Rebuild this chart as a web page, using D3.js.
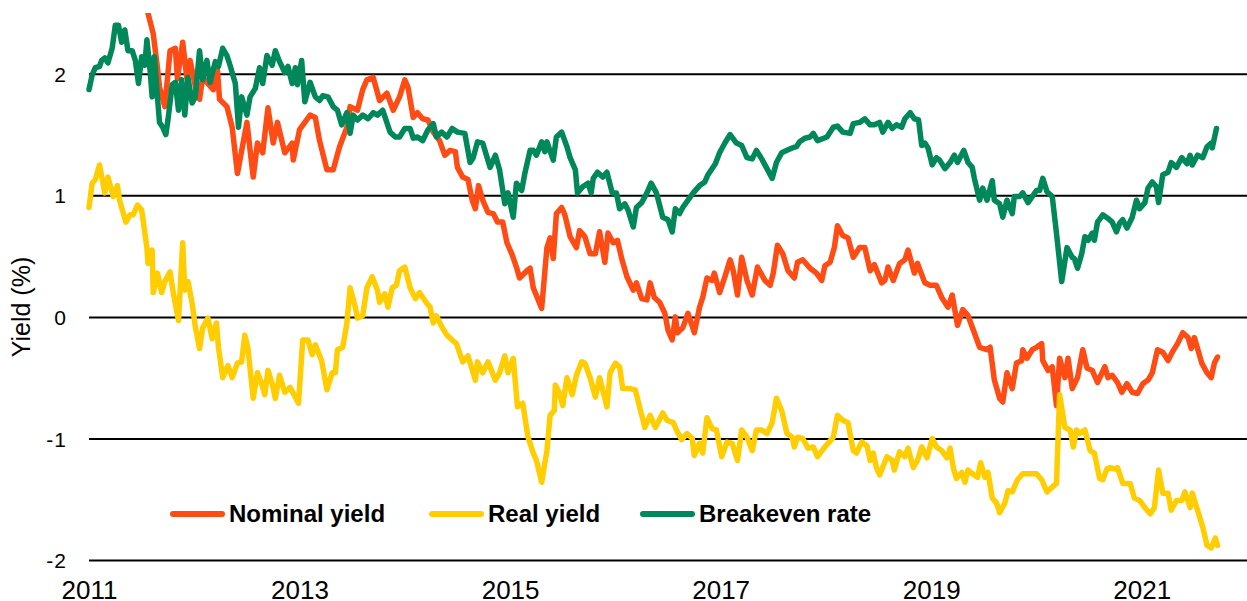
<!DOCTYPE html>
<html>
<head>
<meta charset="utf-8">
<script src="https://cdn.jsdelivr.net/npm/d3@7"></script>
<style>
	body { margin: 0; background: #fff; }
	svg text { font-family: "Liberation Sans", Arial, sans-serif; fill: #000; }
	.axis .domain { display: none; }
	.grid line { stroke: #000; stroke-width: 2px; }
	.y-label { font-size: 21px; letter-spacing: 1px; }
	.x-label { font-size: 26px; }
	.legend text { font-size: 24px; font-weight: bold; }
	.line { fill: none; stroke-width: 5.5px; stroke-linejoin: round; stroke-linecap: round; }
</style>
</head>
<body>
<svg id="chart" width="1247" height="601"></svg>
<script>

var yearTicks = [ 2011, 2013, 2015, 2017, 2019, 2021 ];
var yieldTicks = [ -2, -1, 0, 1, 2 ];
var seriesNames = [ 'Nominal yield', 'Real yield', 'Breakeven rate' ];
var seriesColors = [ '#ff4b14', '#ffcd00', '#00875a' ];

// [ year, yield % ]
var nominal = [
	[2011.00,2.95],[2011.10,3.25],[2011.25,3.35],[2011.40,3.10],[2011.50,2.85],[2011.56,2.50],
	[2011.61,2.33],[2011.65,2.05],[2011.67,1.89],[2011.72,1.73],[2011.77,2.19],[2011.82,2.21],[2011.84,1.96],[2011.89,2.26],[2011.93,1.96],[2011.96,2.11],
	[2012.03,1.81],[2012.05,1.79],[2012.08,1.97],[2012.18,1.87],[2012.22,2.03],[2012.24,1.79],[2012.31,1.73],[2012.36,1.56],[2012.41,1.18],[2012.50,1.60],[2012.56,1.15],[2012.60,1.43],[2012.65,1.35],[2012.70,1.72],[2012.75,1.43],[2012.79,1.60],[2012.86,1.35],[2012.93,1.43],[2012.94,1.29],
	[2013.00,1.54],[2013.10,1.66],[2013.15,1.64],[2013.19,1.45],[2013.26,1.21],[2013.32,1.21],[2013.38,1.40],[2013.45,1.56],[2013.48,1.73],[2013.55,1.70],[2013.60,1.87],[2013.64,1.95],[2013.70,1.97],[2013.76,1.78],[2013.83,1.84],[2013.89,1.70],[2013.95,1.81],
	[2014.00,1.95],[2014.03,1.89],[2014.08,1.64],[2014.12,1.68],[2014.17,1.63],[2014.22,1.62],[2014.27,1.52],[2014.33,1.45],[2014.38,1.33],[2014.43,1.37],[2014.48,1.36],[2014.50,1.23],[2014.55,1.15],[2014.60,1.13],[2014.64,0.96],[2014.67,0.89],[2014.70,1.08],[2014.74,0.96],[2014.79,0.86],[2014.84,0.85],[2014.88,0.78],[2014.93,0.78],[2014.97,0.61],
	[2015.02,0.51],[2015.06,0.41],[2015.09,0.32],[2015.16,0.38],[2015.19,0.40],[2015.22,0.24],[2015.30,0.07],[2015.35,0.57],[2015.38,0.65],[2015.41,0.48],[2015.44,0.85],[2015.49,0.90],[2015.52,0.84],[2015.57,0.66],[2015.63,0.57],[2015.66,0.71],[2015.71,0.66],[2015.76,0.52],[2015.81,0.52],[2015.85,0.70],[2015.90,0.45],[2015.93,0.69],[2015.98,0.61],
	[2016.02,0.63],[2016.06,0.48],[2016.11,0.33],[2016.17,0.22],[2016.20,0.28],[2016.25,0.15],[2016.30,0.14],[2016.33,0.28],[2016.37,0.16],[2016.42,0.12],[2016.47,0.03],[2016.50,-0.11],[2016.54,-0.19],[2016.57,0.00],[2016.59,-0.13],[2016.64,-0.09],[2016.69,0.03],[2016.75,-0.13],[2016.80,0.08],[2016.83,0.16],[2016.87,0.32],[2016.92,0.30],[2016.94,0.36],[2016.99,0.20],
	[2017.04,0.33],[2017.09,0.47],[2017.12,0.38],[2017.16,0.18],[2017.20,0.49],[2017.25,0.30],[2017.30,0.18],[2017.35,0.41],[2017.42,0.30],[2017.47,0.26],[2017.50,0.36],[2017.54,0.59],[2017.59,0.52],[2017.64,0.38],[2017.70,0.32],[2017.73,0.45],[2017.78,0.47],[2017.85,0.40],[2017.91,0.36],[2017.96,0.30],[2017.99,0.42],
	[2018.04,0.45],[2018.08,0.57],[2018.11,0.75],[2018.16,0.67],[2018.21,0.65],[2018.26,0.49],[2018.32,0.57],[2018.37,0.57],[2018.42,0.38],[2018.46,0.43],[2018.53,0.28],[2018.56,0.30],[2018.59,0.41],[2018.64,0.30],[2018.70,0.44],[2018.75,0.47],[2018.78,0.55],[2018.84,0.36],[2018.87,0.44],[2018.94,0.28],[2018.99,0.26],
	[2019.05,0.26],[2019.10,0.16],[2019.16,0.08],[2019.20,0.18],[2019.25,-0.07],[2019.30,0.06],[2019.35,0.01],[2019.41,-0.13],[2019.46,-0.25],[2019.53,-0.27],[2019.56,-0.25],[2019.60,-0.52],[2019.65,-0.67],[2019.68,-0.70],[2019.72,-0.46],[2019.77,-0.59],[2019.81,-0.38],[2019.86,-0.36],[2019.87,-0.27],[2019.91,-0.34],[2019.96,-0.27],
	[2020.00,-0.25],[2020.05,-0.22],[2020.06,-0.36],[2020.11,-0.44],[2020.15,-0.41],[2020.19,-0.73],[2020.22,-0.34],[2020.27,-0.50],[2020.30,-0.34],[2020.34,-0.59],[2020.39,-0.50],[2020.44,-0.27],[2020.48,-0.42],[2020.53,-0.44],[2020.58,-0.54],[2020.65,-0.41],[2020.68,-0.50],[2020.72,-0.48],[2020.77,-0.54],[2020.81,-0.62],[2020.86,-0.55],[2020.91,-0.62],[2020.96,-0.63],
	[2021.01,-0.55],[2021.06,-0.52],[2021.10,-0.46],[2021.15,-0.27],[2021.20,-0.29],[2021.25,-0.36],[2021.29,-0.29],[2021.34,-0.22],[2021.39,-0.13],[2021.44,-0.17],[2021.47,-0.26],[2021.50,-0.17],[2021.57,-0.38],[2021.62,-0.46],[2021.66,-0.50],[2021.69,-0.38],[2021.72,-0.33]
];

var real = [
	[2011.00,0.90],[2011.03,1.10],[2011.06,1.13],[2011.10,1.25],[2011.15,1.02],[2011.18,1.15],[2011.23,0.99],[2011.27,1.08],[2011.29,0.96],[2011.35,0.78],[2011.39,0.84],[2011.42,0.84],[2011.46,0.92],[2011.50,0.88],[2011.55,0.57],[2011.56,0.44],[2011.60,0.55],[2011.61,0.20],[2011.65,0.36],[2011.69,0.20],[2011.72,0.29],[2011.77,0.37],[2011.80,0.20],[2011.85,-0.03],[2011.89,0.61],[2011.91,0.22],[2011.94,0.29],[2011.98,0.11],
	[2012.01,-0.08],[2012.05,-0.26],[2012.08,-0.09],[2012.13,-0.01],[2012.17,-0.18],[2012.21,-0.05],[2012.23,-0.25],[2012.27,-0.50],[2012.32,-0.40],[2012.36,-0.50],[2012.41,-0.38],[2012.45,-0.37],[2012.48,-0.15],[2012.51,-0.26],[2012.56,-0.67],[2012.60,-0.46],[2012.64,-0.55],[2012.67,-0.64],[2012.70,-0.44],[2012.74,-0.55],[2012.77,-0.67],[2012.81,-0.48],[2012.86,-0.62],[2012.91,-0.58],[2012.96,-0.66],[2012.99,-0.71],
	[2013.03,-0.19],[2013.08,-0.19],[2013.12,-0.31],[2013.15,-0.23],[2013.21,-0.36],[2013.26,-0.60],[2013.31,-0.46],[2013.34,-0.46],[2013.36,-0.27],[2013.41,-0.25],[2013.45,-0.05],[2013.48,0.24],[2013.53,0.08],[2013.55,-0.01],[2013.60,0.01],[2013.64,0.24],[2013.69,0.33],[2013.74,0.22],[2013.76,0.12],[2013.81,0.19],[2013.84,0.08],[2013.88,0.24],[2013.92,0.26],[2013.95,0.38],
	[2014.00,0.41],[2014.05,0.24],[2014.10,0.15],[2014.14,0.20],[2014.21,0.11],[2014.24,0.08],[2014.27,-0.05],[2014.30,0.01],[2014.35,-0.08],[2014.40,-0.15],[2014.45,-0.19],[2014.49,-0.22],[2014.55,-0.37],[2014.60,-0.32],[2014.67,-0.52],[2014.69,-0.37],[2014.74,-0.46],[2014.79,-0.37],[2014.86,-0.52],[2014.90,-0.46],[2014.95,-0.32],[2014.98,-0.46],
	[2015.03,-0.34],[2015.07,-0.74],[2015.12,-0.71],[2015.17,-0.99],[2015.22,-1.12],[2015.25,-1.18],[2015.30,-1.36],[2015.35,-1.10],[2015.38,-0.81],[2015.42,-0.77],[2015.43,-0.56],[2015.47,-0.63],[2015.50,-0.73],[2015.54,-0.50],[2015.59,-0.64],[2015.63,-0.48],[2015.68,-0.37],[2015.71,-0.38],[2015.76,-0.50],[2015.81,-0.66],[2015.85,-0.50],[2015.92,-0.74],[2015.95,-0.46],
	[2016.00,-0.38],[2016.04,-0.41],[2016.07,-0.59],[2016.14,-0.59],[2016.19,-0.60],[2016.23,-0.74],[2016.28,-0.91],[2016.33,-0.81],[2016.38,-0.91],[2016.45,-0.79],[2016.49,-0.85],[2016.55,-0.87],[2016.58,-0.93],[2016.63,-1.01],[2016.68,-0.96],[2016.73,-1.00],[2016.75,-1.14],[2016.80,-1.04],[2016.83,-1.12],[2016.87,-0.83],[2016.92,-0.92],[2016.96,-0.93],
	[2017.01,-1.15],[2017.06,-1.03],[2017.11,-1.04],[2017.16,-1.18],[2017.20,-0.93],[2017.25,-0.99],[2017.30,-1.10],[2017.34,-0.93],[2017.39,-0.93],[2017.44,-0.96],[2017.49,-0.87],[2017.53,-0.67],[2017.58,-0.77],[2017.63,-0.96],[2017.68,-0.99],[2017.70,-1.07],[2017.73,-0.99],[2017.78,-1.00],[2017.83,-1.08],[2017.88,-1.07],[2017.92,-1.15],[2017.99,-1.07],
	[2018.04,-1.02],[2018.07,-0.99],[2018.11,-0.81],[2018.16,-0.85],[2018.21,-0.87],[2018.26,-1.10],[2018.29,-1.12],[2018.34,-1.03],[2018.39,-1.06],[2018.42,-1.18],[2018.45,-1.12],[2018.48,-1.24],[2018.51,-1.30],[2018.58,-1.15],[2018.63,-1.18],[2018.65,-1.26],[2018.70,-1.11],[2018.75,-1.15],[2018.78,-1.08],[2018.83,-1.24],[2018.87,-1.18],[2018.91,-1.07],[2018.96,-1.16],
	[2019.01,-1.00],[2019.05,-1.07],[2019.10,-1.10],[2019.15,-1.16],[2019.18,-1.08],[2019.21,-1.24],[2019.24,-1.33],[2019.29,-1.28],[2019.32,-1.36],[2019.35,-1.26],[2019.39,-1.29],[2019.44,-1.32],[2019.47,-1.20],[2019.51,-1.32],[2019.54,-1.28],[2019.58,-1.49],[2019.62,-1.53],[2019.65,-1.61],[2019.70,-1.53],[2019.73,-1.43],[2019.77,-1.44],[2019.82,-1.34],[2019.87,-1.29],[2019.94,-1.29],
	[2020.00,-1.29],[2020.05,-1.34],[2020.10,-1.44],[2020.15,-1.40],[2020.19,-1.37],[2020.22,-0.64],[2020.27,-0.91],[2020.32,-0.93],[2020.35,-1.07],[2020.38,-0.93],[2020.41,-0.96],[2020.46,-0.93],[2020.51,-1.10],[2020.55,-1.12],[2020.60,-1.33],[2020.63,-1.34],[2020.67,-1.25],[2020.70,-1.24],[2020.74,-1.25],[2020.77,-1.24],[2020.82,-1.37],[2020.89,-1.37],[2020.93,-1.49],[2020.98,-1.51],
	[2021.03,-1.57],[2021.08,-1.62],[2021.12,-1.57],[2021.16,-1.26],[2021.20,-1.45],[2021.25,-1.45],[2021.28,-1.59],[2021.33,-1.51],[2021.38,-1.51],[2021.41,-1.44],[2021.46,-1.57],[2021.48,-1.45],[2021.53,-1.59],[2021.58,-1.73],[2021.62,-1.88],[2021.66,-1.90],[2021.70,-1.82],[2021.72,-1.88]
];

var breakeven = [
	[2011.00,1.87],[2011.03,1.99],[2011.06,2.05],[2011.10,2.06],[2011.12,2.11],[2011.15,2.13],[2011.18,2.09],[2011.22,2.21],[2011.25,2.40],[2011.28,2.40],[2011.31,2.26],[2011.34,2.36],[2011.37,2.19],[2011.41,2.19],[2011.44,2.11],[2011.47,1.92],[2011.50,2.14],[2011.53,2.07],[2011.55,2.28],[2011.58,2.03],[2011.60,1.81],[2011.62,2.14],[2011.65,1.81],[2011.67,1.60],[2011.70,1.56],[2011.73,1.50],[2011.75,1.62],[2011.79,1.91],[2011.82,1.93],[2011.85,1.70],[2011.88,1.95],[2011.91,1.66],[2011.94,1.97],[2011.98,1.76],
	[2012.01,1.81],[2012.05,2.19],[2012.08,1.95],[2012.12,2.11],[2012.15,1.93],[2012.20,2.10],[2012.23,2.06],[2012.27,2.21],[2012.31,2.15],[2012.34,2.07],[2012.39,1.92],[2012.42,1.56],[2012.45,1.81],[2012.50,1.66],[2012.53,1.81],[2012.58,1.88],[2012.62,2.05],[2012.65,1.92],[2012.69,2.15],[2012.74,2.07],[2012.77,2.19],[2012.81,2.10],[2012.86,2.01],[2012.89,2.06],[2012.93,1.92],[2012.96,2.05],[2012.98,1.91],
	[2013.02,2.11],[2013.05,1.77],[2013.10,1.93],[2013.15,1.81],[2013.19,1.78],[2013.22,1.82],[2013.27,1.81],[2013.32,1.73],[2013.36,1.70],[2013.40,1.58],[2013.45,1.68],[2013.48,1.51],[2013.51,1.66],[2013.55,1.62],[2013.60,1.66],[2013.65,1.63],[2013.70,1.68],[2013.74,1.66],[2013.79,1.70],[2013.86,1.52],[2013.91,1.48],[2013.95,1.48],
	[2014.00,1.55],[2014.05,1.55],[2014.08,1.47],[2014.12,1.48],[2014.17,1.45],[2014.22,1.54],[2014.27,1.59],[2014.30,1.48],[2014.35,1.52],[2014.40,1.48],[2014.45,1.55],[2014.50,1.52],[2014.57,1.51],[2014.62,1.27],[2014.65,1.31],[2014.69,1.44],[2014.74,1.43],[2014.81,1.23],[2014.86,1.33],[2014.90,1.21],[2014.95,0.93],[2014.98,1.02],
	[2015.03,0.82],[2015.06,1.10],[2015.11,1.04],[2015.14,1.18],[2015.19,1.37],[2015.22,1.37],[2015.25,1.33],[2015.30,1.44],[2015.33,1.36],[2015.35,1.44],[2015.41,1.29],[2015.44,1.48],[2015.49,1.52],[2015.54,1.40],[2015.57,1.31],[2015.62,1.21],[2015.64,1.02],[2015.69,1.07],[2015.74,1.10],[2015.77,1.02],[2015.79,1.14],[2015.83,1.19],[2015.88,1.15],[2015.92,1.19],[2015.97,1.02],
	[2016.01,1.02],[2016.04,0.89],[2016.09,0.93],[2016.12,0.88],[2016.17,0.74],[2016.20,0.90],[2016.25,0.94],[2016.30,1.02],[2016.34,1.10],[2016.39,1.02],[2016.45,0.82],[2016.50,0.80],[2016.54,0.70],[2016.57,0.89],[2016.61,0.85],[2016.64,0.90],[2016.69,0.96],[2016.74,1.02],[2016.80,1.08],[2016.85,1.11],[2016.88,1.17],[2016.95,1.26],[2016.99,1.35],
	[2017.04,1.43],[2017.09,1.50],[2017.15,1.43],[2017.20,1.41],[2017.25,1.31],[2017.30,1.30],[2017.34,1.37],[2017.39,1.30],[2017.44,1.22],[2017.49,1.14],[2017.53,1.27],[2017.58,1.35],[2017.63,1.37],[2017.68,1.39],[2017.72,1.40],[2017.75,1.44],[2017.80,1.47],[2017.85,1.48],[2017.88,1.51],[2017.92,1.45],
	[2018.01,1.48],[2018.07,1.56],[2018.11,1.57],[2018.16,1.52],[2018.23,1.51],[2018.26,1.59],[2018.32,1.60],[2018.37,1.63],[2018.42,1.58],[2018.46,1.58],[2018.51,1.60],[2018.54,1.52],[2018.59,1.60],[2018.63,1.55],[2018.67,1.58],[2018.72,1.56],[2018.75,1.63],[2018.80,1.68],[2018.84,1.63],[2018.88,1.62],[2018.91,1.41],[2018.94,1.43],[2018.97,1.39],
	[2019.01,1.25],[2019.05,1.31],[2019.08,1.29],[2019.13,1.22],[2019.18,1.27],[2019.22,1.33],[2019.25,1.27],[2019.31,1.37],[2019.35,1.27],[2019.39,1.23],[2019.41,1.14],[2019.46,0.96],[2019.49,1.06],[2019.53,0.96],[2019.58,1.12],[2019.60,0.96],[2019.65,0.93],[2019.68,0.82],[2019.72,0.96],[2019.77,0.85],[2019.79,0.99],[2019.84,0.99],[2019.87,1.02],[2019.92,0.94],
	[2020.00,1.04],[2020.03,1.04],[2020.06,1.14],[2020.10,1.03],[2020.15,0.99],[2020.19,0.69],[2020.24,0.29],[2020.29,0.57],[2020.34,0.49],[2020.36,0.48],[2020.39,0.40],[2020.43,0.52],[2020.46,0.66],[2020.49,0.63],[2020.53,0.69],[2020.55,0.63],[2020.58,0.78],[2020.63,0.84],[2020.68,0.81],[2020.72,0.78],[2020.76,0.70],[2020.79,0.77],[2020.82,0.80],[2020.86,0.73],[2020.91,0.82],[2020.95,0.96],[2020.98,0.89],
	[2021.03,0.94],[2021.06,1.06],[2021.10,1.11],[2021.14,1.07],[2021.16,0.94],[2021.20,1.17],[2021.25,1.19],[2021.28,1.27],[2021.33,1.23],[2021.38,1.31],[2021.43,1.26],[2021.46,1.33],[2021.48,1.25],[2021.53,1.33],[2021.58,1.31],[2021.62,1.40],[2021.66,1.43],[2021.67,1.39],[2021.71,1.55]
];

var series = [ nominal, real, breakeven ];

var width = 1247;
var height = 601;
var plot = { left: 89, right: 1247, top: 13, bottom: 560 };

var svg = d3.select( '#chart' );

var x = d3.scaleLinear().domain( [ 2011, 2022 ] ).range( [ plot.left, plot.right ] );
var y = d3.scaleLinear().domain( [ -2, 2.5 ] ).range( [ plot.bottom, plot.top ] );

// horizontal grid + y labels
var yAxis = d3.axisLeft( y )
	.tickValues( yieldTicks )
	.tickSize( -( plot.right - plot.left ) )
	.tickPadding( 22 )
	.tickFormat( function ( d ) { return String( d ); } );

svg.append( 'g' )
	.classed( 'axis', true )
	.classed( 'grid', true )
	.attr( 'transform', 'translate(' + plot.left + ',0)' )
	.call( yAxis )
	.selectAll( 'text' )
	.classed( 'y-label', true )
	.attr( 'dy', '0.36em' );

var xAxis = d3.axisBottom( x )
	.tickValues( yearTicks )
	.tickSize( 0 )
	.tickFormat( function ( d ) { return String( d ); } );

svg.append( 'g' )
	.classed( 'axis', true )
	.attr( 'transform', 'translate(0,' + plot.bottom + ')' )
	.call( xAxis )
	.selectAll( 'text' )
	.classed( 'x-label', true )
	.attr( 'y', 39 )
	.attr( 'dy', null );

svg.append( 'text' )
	.attr( 'transform', 'translate(29.5,307) rotate(-90)' )
	.attr( 'text-anchor', 'middle' )
	.style( 'font-size', '25px' )
	.text( 'Yield (%)' );

svg.append( 'clipPath' )
	.attr( 'id', 'plot-clip' )
	.append( 'rect' )
	.attr( 'x', plot.left - 4 )
	.attr( 'y', plot.top )
	.attr( 'width', plot.right - plot.left + 4 )
	.attr( 'height', height - plot.top );

var line = d3.line()
	.x( function ( d ) { return x( d[0] ); } )
	.y( function ( d ) { return y( d[1] ); } );

var lines = svg.append( 'g' ).attr( 'clip-path', 'url(#plot-clip)' );

series.forEach( function ( s, i ) {
	lines.append( 'path' )
		.datum( s )
		.attr( 'class', 'line' )
		.attr( 'stroke', seriesColors[i] )
		.attr( 'd', line );
} );

// legend
var legendX = [ 173, 432, 643 ];
var legendY = 514;

var legend = svg.append( 'g' ).classed( 'legend', true );

seriesNames.forEach( function ( name, i ) {
	legend.append( 'line' )
		.attr( 'x1', legendX[i] )
		.attr( 'x2', legendX[i] + 49 )
		.attr( 'y1', legendY )
		.attr( 'y2', legendY )
		.attr( 'stroke', seriesColors[i] )
		.attr( 'stroke-width', 6 )
		.attr( 'stroke-linecap', 'round' );
	legend.append( 'text' )
		.attr( 'x', legendX[i] + 56 )
		.attr( 'y', legendY + 8 )
		.text( name );
} );

</script>
</body>
</html>
